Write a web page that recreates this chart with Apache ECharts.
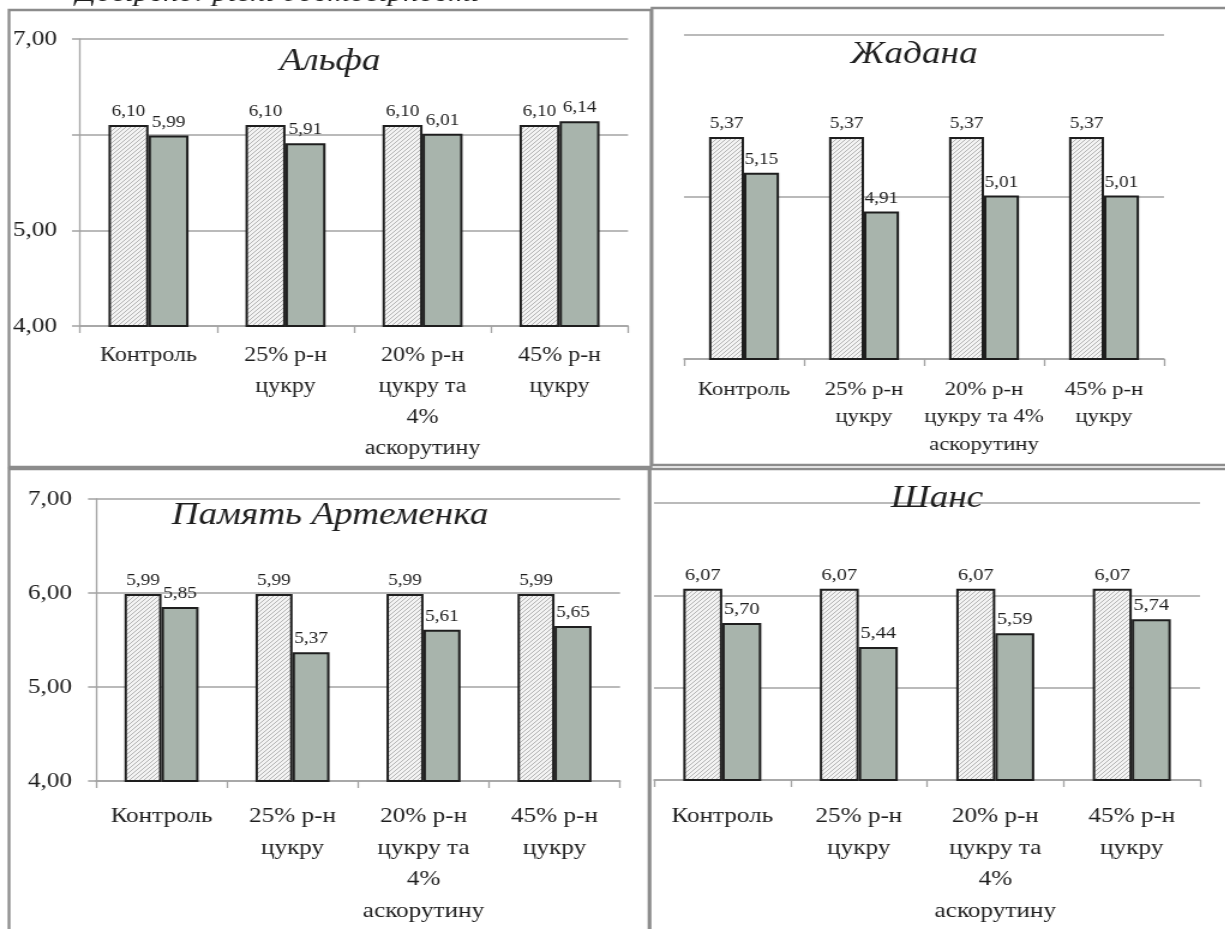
<!DOCTYPE html>
<html>
<head>
<meta charset="utf-8">
<script src="https://cdn.jsdelivr.net/npm/echarts@6/dist/echarts.min.js"></script>
<style>
  html, body { margin: 0; padding: 0; background: #ffffff; overflow: hidden; }
  /* the figure is set in a wide, horizontally stretched frame */
  #chart { width: 1021px; height: 929px; transform: scaleX(1.2); transform-origin: 0 0; }
</style>
</head>
<body>
<div id="chart"></div>
<script>
// Category labels (one set per panel, line breaks as printed)
const catsAlpha = ['Контроль', '25% р-н\nцукру', '20% р-н\nцукру та\n4%\nаскорутину', '45% р-н\nцукру'];
const catsZhadana = ['Контроль', '25% р-н\nцукру', '20% р-н\nцукру та 4%\nаскорутину', '45% р-н\nцукру'];
const catsPamyat = ['Контроль', '25% р-н\nцукру', '20% р-н\nцукру та\n4%\nаскорутину', '45% р-н\nцукру'];
const catsShans = ['Контроль', '25% р-н\nцукру', '20% р-н\nцукру та\n4%\nаскорутину', '45% р-н\nцукру'];

// Panel titles (variety names)
const titles = ['Альфа', 'Жадана', 'Память Артеменка', 'Шанс'];

// Values: first series = control, second = treated
const alphaControl = [6.10, 6.10, 6.10, 6.10];
const alphaTreated = [5.99, 5.91, 6.01, 6.14];
const zhadanaControl = [5.37, 5.37, 5.37, 5.37];
const zhadanaTreated = [5.15, 4.91, 5.01, 5.01];
const pamyatControl = [5.99, 5.99, 5.99, 5.99];
const pamyatTreated = [5.85, 5.37, 5.61, 5.65];
const shansControl = [6.07, 6.07, 6.07, 6.07];
const shansTreated = [5.70, 5.44, 5.59, 5.74];

const S = 1.2;                 // horizontal stretch of the frame
const X = v => v / S;          // page x -> chart x

const SERIF = '"Liberation Serif", "Times New Roman", serif';
const INK = '#1e1e1e';
const RULE = '#a3a3a3';
const FRAME = '#8c8c8c';

// Diagonal hatch used for the control bars
function hatch() {
  const c = document.createElement('canvas');
  c.width = 4; c.height = 4;
  const g = c.getContext('2d');
  g.fillStyle = '#f3f3f3';
  g.fillRect(0, 0, 4, 4);
  g.strokeStyle = '#b4b4b4';
  g.lineWidth = 1;
  g.beginPath();
  g.moveTo(-1, 5); g.lineTo(5, -1);
  g.moveTo(-1, 1); g.lineTo(1, -1);
  g.moveTo(3, 5); g.lineTo(5, 3);
  g.stroke();
  return c;
}
const hatchFill = { image: hatch(), repeat: 'repeat' };
const solidFill = '#a8b4ac';

const comma = v => v.toFixed(2).replace('.', ',');

const panels = [
  { l: 80, t: 39, w: 548, h: 287, cats: catsAlpha, min: 4, max: 7, yLabels: true, hide: [6],
    a: alphaControl, b: alphaTreated, bw: 40, xFont: 20, xLh: 31, xMargin: 14, yMargin: 23, vFont: 16 },
  { l: 684, t: 35, w: 480, h: 324, cats: catsZhadana, min: 4, max: 6, yLabels: false, hide: [],
    a: zhadanaControl, b: zhadanaTreated, bw: 35, xFont: 19, xLh: 27.5, xMargin: 17, yMargin: 20, vFont: 16 },
  { l: 96, t: 499, w: 524, h: 282, cats: catsPamyat, min: 4, max: 7, yLabels: true, hide: [],
    a: pamyatControl, b: pamyatTreated, bw: 37, xFont: 21, xLh: 31.5, xMargin: 20, yMargin: 24, vFont: 16 },
  { l: 654, t: 503, w: 546, h: 277, cats: catsShans, min: 4, max: 7, yLabels: false, hide: [],
    a: shansControl, b: shansTreated, bw: 39, xFont: 21, xLh: 31.5, xMargin: 21, yMargin: 20, vFont: 17 }
];

const grids = [], xAxes = [], yAxes = [], series = [];
panels.forEach((p, i) => {
  grids.push({ left: X(p.l), top: p.t, width: X(p.w), height: p.h });
  xAxes.push({
    type: 'category', gridIndex: i, data: p.cats,
    axisLine: { show: true, lineStyle: { color: RULE, width: 1.5 } },
    axisTick: { show: true, length: 7, lineStyle: { color: RULE, width: 1.3 } },
    axisLabel: { interval: 0, color: INK, fontFamily: SERIF, fontSize: p.xFont, lineHeight: p.xLh, margin: p.xMargin, align: 'center' }
  });
  yAxes.push({
    type: 'value', gridIndex: i, min: p.min, max: p.max, interval: 1,
    axisLine: { show: p.yLabels, lineStyle: { color: RULE, width: 1.3 } },
    axisTick: { show: p.yLabels, length: X(8), lineStyle: { color: RULE, width: 1.5 } },
    axisLabel: {
      show: p.yLabels, color: INK, fontFamily: SERIF, fontSize: 21, margin: X(p.yMargin),
      formatter: v => (p.hide.indexOf(v) >= 0 ? '' : comma(v))
    },
    splitLine: { show: true, lineStyle: { color: RULE, width: 1.5 } }
  });
  const label = {
    show: true, position: 'top', distance: 5, color: INK,
    fontFamily: SERIF, fontSize: p.vFont, formatter: d => comma(d.value)
  };
  series.push({
    type: 'bar', xAxisIndex: i, yAxisIndex: i, data: p.a, barWidth: X(p.bw), barGap: '0%',
    itemStyle: { color: hatchFill, borderColor: INK, borderWidth: 2 }, label
  });
  series.push({
    type: 'bar', xAxisIndex: i, yAxisIndex: i, data: p.b, barWidth: X(p.bw), barGap: '0%',
    itemStyle: { color: solidFill, borderColor: INK, borderWidth: 2 }, label
  });
});

const titleSpots = [[330, 62], [914, 55], [330, 516], [937, 499]];
const frame = (x, y, w, h) => ({
  type: 'rect', silent: true,
  shape: { x: X(x), y, width: X(w), height: h },
  style: { fill: 'none', stroke: FRAME, lineWidth: 2.3 }
});
const graphic = [
  // heading line of the page, running off the top edge
  { type: 'text', left: X(76), top: -19, silent: true,
    style: { text: 'Довірено: рівні достовірності', font: 'italic 26px ' + SERIF, fill: INK } },
  // panel frames
  frame(9, 10, 642, 457),
  frame(652, 8, 600, 457),
  frame(9, 469, 640, 480),
  frame(650, 469, 600, 480)
];
titles.forEach((t, i) => {
  graphic.push({
    type: 'text', x: X(titleSpots[i][0]), y: titleSpots[i][1], silent: true, z: 100,
    style: { text: t, font: 'italic 31px ' + SERIF, fill: INK, textAlign: 'center', textVerticalAlign: 'middle' }
  });
});

const chart = echarts.init(document.getElementById('chart'), null, { renderer: 'canvas' });
chart.setOption({
  animation: false,
  backgroundColor: '#ffffff',
  grid: grids, xAxis: xAxes, yAxis: yAxes, series, graphic
});
</script>
</body>
</html>
